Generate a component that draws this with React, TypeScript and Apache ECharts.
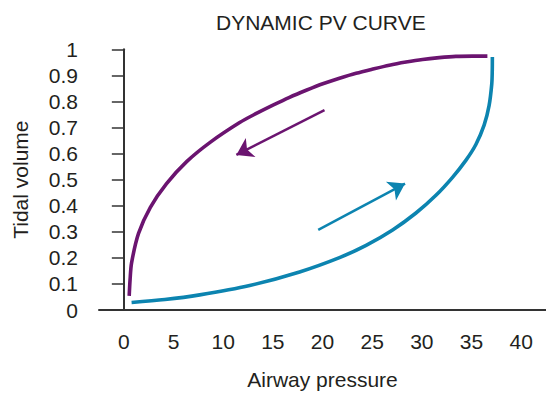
import React, { useEffect, useRef } from "react";
import * as echarts from "echarts";

const xCategories = ["0", "5", "10", "15", "20", "25", "30", "35", "40"];
const yTicks = [0, 0.1, 0.2, 0.3, 0.4, 0.5, 0.6, 0.7, 0.8, 0.9, 1];

// Expiration limb (purple): [airway pressure, tidal volume]
const expiration: [number, number][] = [
  [0.54, 0.054], [0.63, 0.117], [0.78, 0.181], [1.48, 0.294], [2.67, 0.394],
  [4.28, 0.484], [6.35, 0.57], [8.72, 0.644], [11.66, 0.719], [13.34, 0.754],
  [15.01, 0.786], [16.68, 0.816], [18.36, 0.843], [20.03, 0.868], [21.71, 0.889],
  [23.38, 0.908], [25.05, 0.924], [26.73, 0.939], [28.41, 0.951], [30.07, 0.961],
  [31.75, 0.968], [33.43, 0.973], [35.1, 0.974], [36.6, 0.974],
];

// Inspiration limb (blue)
const inspiration: [number, number][] = [
  [0.78, 0.029], [4.13, 0.04], [7.64, 0.058], [12.67, 0.094], [17.69, 0.146],
  [21.71, 0.201], [24.39, 0.248], [27.06, 0.307], [29.41, 0.372], [31.42, 0.44],
  [33.09, 0.509], [34.43, 0.574], [35.44, 0.635], [36.27, 0.709], [36.77, 0.784],
  [37.04, 0.867], [37.09, 0.918], [37.1, 0.97],
];

const expArrow: [number, number][] = [[20.2, 0.767], [11.33, 0.595]];
const inspArrow: [number, number][] = [[19.57, 0.307], [28.31, 0.485]];

const PURPLE = "#6b1470";
const BLUE = "#0c84b0";
const TEXT = "#231f20";
const FONT = "'Liberation Sans', Arial, Helvetica, sans-serif";

export default function App() {
  const ref = useRef<HTMLDivElement>(null);
  useEffect(() => {
    if (!ref.current) return;
    const chart = echarts.init(ref.current, undefined, { renderer: "svg" });
    chart.setOption({
      animation: false,
      backgroundColor: "#ffffff",
      textStyle: { fontFamily: FONT },
      title: {
        text: "DYNAMIC PV CURVE",
        left: 211,
        top: 7,
        textStyle: { fontFamily: FONT, fontSize: 21, fontWeight: "normal", color: TEXT },
      },
      grid: { left: 99, top: 49.3, width: 448, height: 265.7 },
      xAxis: [
        {
          type: "category",
          data: xCategories,
          boundaryGap: true,
          axisLine: { lineStyle: { color: "#333", width: 2 } },
          axisTick: { length: 11, lineStyle: { color: "#333", width: 1.5 } },
          axisLabel: { fontSize: 21, color: TEXT, margin: 21, fontFamily: FONT },
          name: "Airway pressure",
          nameLocation: "middle",
          nameGap: 59,
          nameTextStyle: { fontSize: 21, color: TEXT, fontFamily: FONT },
        },
        { type: "value", min: -2.5, max: 42.5, show: false },
      ],
      yAxis: {
        type: "value",
        min: 0,
        max: 1,
        interval: 0.1,
        splitLine: { show: false },
        axisLine: { show: true, lineStyle: { color: "#333", width: 2 } },
        axisTick: { show: true, length: 12, lineStyle: { color: "#333", width: 1.5 } },
        axisLabel: {
          fontSize: 21,
          color: TEXT,
          margin: 21,
          fontFamily: FONT,
          formatter: (v: number) => {
            const t = yTicks.find((k) => Math.abs(k - v) < 1e-6);
            const val = t === undefined ? v : t;
            return val === 0 ? "0" : val === 1 ? "1" : val.toFixed(1);
          },
        },
        name: "Tidal volume",
        nameLocation: "middle",
        nameGap: 68,
        nameRotate: 90,
        nameTextStyle: { fontSize: 21, color: TEXT, fontFamily: FONT },
      },
      series: [
        {
          type: "line",
          xAxisIndex: 1,
          data: expiration,
          smooth: 0.3,
          showSymbol: false,
          lineStyle: { color: PURPLE, width: 3.6, cap: "butt" },
          itemStyle: { color: PURPLE },
        },
        {
          type: "line",
          xAxisIndex: 1,
          data: inspiration,
          smooth: 0.3,
          showSymbol: false,
          lineStyle: { color: BLUE, width: 3.6, cap: "butt" },
          itemStyle: { color: BLUE },
        },
        {
          type: "lines",
          coordinateSystem: "cartesian2d",
          xAxisIndex: 1,
          symbol: ["none", "arrow"],
          symbolSize: 16,
          data: [
            { coords: expArrow, lineStyle: { color: PURPLE, width: 2.5, opacity: 1 } },
            { coords: inspArrow, lineStyle: { color: BLUE, width: 2.5, opacity: 1 } },
          ],
        },
      ],
    });
    return () => chart.dispose();
  }, []);
  return (
    <div
      ref={ref}
      style={{ position: "fixed", left: 0, top: 0, width: 546, height: 395 }}
    />
  );
}
